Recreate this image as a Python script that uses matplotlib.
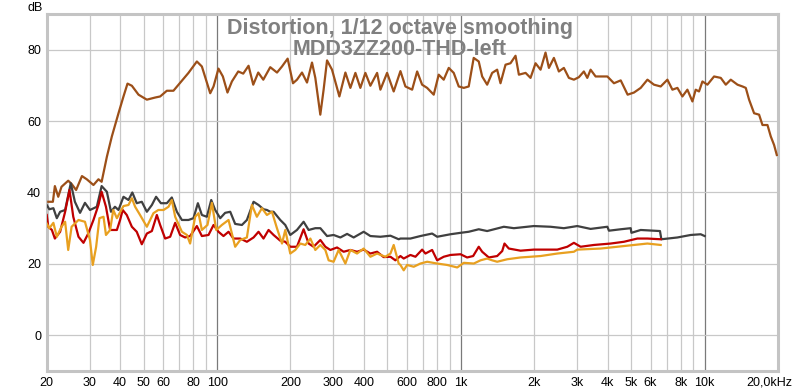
import numpy as np
import matplotlib
matplotlib.use("Agg")
import matplotlib.pyplot as plt
import matplotlib.transforms as mtransforms
from matplotlib.ticker import FixedLocator, NullFormatter

# level curve (brown)
lvl_f = [20.3, 21.2, 21.6, 22.3, 23.0, 24.5, 25.3, 26.4, 27.9, 29.2, 31.1, 32.6, 33.6,
         35.3, 37.0, 39.4, 41.3, 42.9, 44.7, 47.6, 51.5, 55.7, 58.4, 62.2, 66.2, 70.5,
         76.3, 82.6, 86.6, 93.7, 96.7, 101.3, 105.6, 110.3, 115.0, 122.1, 128.0, 134.6,
         140.7, 147.5, 154.7, 165.2, 176.1, 184.6, 194.7, 204.8, 212.7, 223.0, 233.8,
         245.1, 252.9, 265.1, 273.5, 282.5, 296.1, 317.4, 336.0, 352.2, 369.3, 387.0,
         405.8, 425.4, 453.3, 467.7, 498.1, 530.2, 565.1, 592.3, 631.2, 661.7, 693.4,
         727.1, 773.9, 811.3, 850.5, 891.9, 934.9, 980.1, 1028, 1077, 1129, 1184, 1223,
         1282, 1344, 1409, 1454, 1525, 1598, 1676, 1730, 1843, 1931, 2025, 2123, 2225,
         2297, 2408, 2524, 2646, 2774, 2909, 3049, 3196, 3301, 3406, 3571, 3743, 3990,
         4247, 4527, 4832, 5132, 5467, 5827, 6198, 6604, 7036, 7376, 7734, 8107, 8498,
         8911, 9192, 9484, 9795, 10267, 10933, 11648, 12213, 12801, 13641, 14300, 14753,
         15220, 15958, 16728, 17273, 18108, 18681, 19276, 19775]
lvl_db = [37.4, 37.4, 41.8, 38.8, 41.6, 43.3, 42.4, 40.7, 44.6, 43.7, 42.1, 43.7, 43.0,
          50.0, 55.7, 62.2, 66.9, 70.5, 69.9, 67.4, 66.0, 66.6, 66.9, 68.5, 68.5, 70.7,
          73.5, 76.7, 75.3, 67.8, 69.7, 74.7, 72.5, 68.0, 71.1, 73.9, 73.3, 75.5,
          70.2, 73.6, 71.6, 75.1, 73.6, 75.3, 77.5, 70.6, 71.6, 73.6, 70.8,
          76.4, 72.1, 61.8, 68.8, 77.0, 74.4, 66.9, 73.6, 69.3, 73.5, 69.3,
          73.5, 69.9, 73.5, 68.8, 73.5, 68.3, 74.0, 69.7, 68.8, 73.9, 70.2,
          69.3, 67.4, 73.0, 71.6, 74.9, 73.5, 69.7, 69.3, 69.7, 77.7, 76.7, 72.5,
          70.2, 73.5, 74.4, 70.6, 75.8, 76.2, 78.3, 73.0, 73.5, 72.1, 76.2, 74.4, 79.2,
          74.9, 77.7, 73.9, 74.9, 72.1, 71.6, 72.3, 73.9, 72.1, 74.4, 72.5, 72.5, 72.5,
          70.6, 71.4, 67.4, 68.0, 69.3, 71.6, 70.2, 69.7, 71.6, 68.8, 69.3, 66.9, 68.8,
          65.5, 68.8, 68.3, 71.1, 70.2, 72.5, 72.1, 70.2, 71.6, 70.2, 69.7, 69.3,
          66.0, 62.2, 61.8, 58.9, 58.9, 55.7, 53.3, 50.5]

# THD (dark gray)
thd_f = [20.0, 20.5, 21.3, 22.0, 22.7, 23.8, 25.1, 26.1, 27.4, 28.7, 30.1, 32.1, 33.6,
         35.3, 36.7, 38.1, 39.4, 41.3, 43.3, 44.9, 46.8, 49.1, 51.5, 54.0, 56.2, 58.8,
         62.2, 65.2, 68.4, 71.7, 76.3, 80.0, 83.4, 86.6, 90.8, 94.6, 98.2, 103.0, 107.9,
         113.2, 118.6, 126.4, 132.5, 141.1, 147.9, 155.0, 160.1, 165.2, 170.5, 181.6,
         190.4, 199.6, 212.6, 226.4, 237.4, 252.9, 265.2, 282.5, 300.6, 320.4, 341.4,
         363.3, 399.3, 425.4, 467.7, 514.2, 555.9, 565.1, 621.0, 682.5, 762.3, 799.3,
         906.4, 996.9, 1077, 1184, 1282, 1501, 1650, 1992, 2334, 2646, 3003, 3406, 3990,
         4051, 4528, 4975, 5008, 5467, 6559, 6646, 7734, 8769, 9637, 10004]
thd_db = [36.5, 35.3, 35.6, 32.8, 34.6, 35.1, 42.6, 37.4, 34.3, 37.1, 35.1, 36.0, 41.8,
          40.2, 34.6, 36.0, 35.1, 38.8, 37.9, 40.0, 37.0, 37.4, 34.6, 36.5, 38.8, 37.0,
          37.0, 38.6, 34.6, 32.3, 32.3, 32.8, 37.0, 33.7, 33.2, 37.9, 35.1, 32.8, 34.3,
          34.6, 31.2, 30.9, 32.3, 37.4, 36.5, 35.3, 35.1, 34.6, 34.6, 32.3,
          30.9, 28.1, 29.5, 31.8, 29.5, 30.0, 30.0, 27.8, 28.1, 27.4, 28.4,
          27.4, 29.0, 27.8, 27.6, 27.9, 26.9, 27.1, 27.1, 27.8, 28.5, 27.6,
          28.3, 28.7, 29.0, 29.7, 29.2, 30.4, 30.0, 30.6, 30.4, 30.0, 30.6, 29.8, 30.4,
          29.3, 29.7, 30.0, 28.7, 29.5, 29.2, 26.9, 27.4, 28.1, 28.3, 27.8]

# H2 (red)
h2_f = [20.0, 20.3, 21.0, 21.6, 22.7, 23.8, 24.8, 25.7, 27.0, 28.3, 29.6, 31.1, 32.6,
        33.6, 35.0, 36.4, 38.8, 40.0, 41.0, 42.6, 44.7, 46.8, 49.1, 51.5, 54.0, 56.6,
        58.4, 61.2, 64.2, 67.3, 70.5, 73.9, 77.5, 82.6, 86.6, 92.2, 96.7, 101.3, 106.2,
        111.4, 116.7, 124.4, 132.5, 141.1, 147.9, 155.0, 162.6, 170.5, 181.6, 190.4,
        199.6, 212.6, 226.4, 237.4, 248.8, 265.2, 278.0, 291.5, 310.5, 330.4, 352.1,
        375.1, 399.3, 425.4, 453.3, 482.2, 514.2, 538.7, 565.1, 582.8, 621.0, 651.1,
        693.6, 715.6, 762.3, 799.3, 850.5, 906.4, 996.9, 1061, 1123, 1184, 1223, 1302,
        1409, 1478, 1510, 1573, 1757, 1992, 2190, 2486, 2733, 2909, 3100, 3514, 4116,
        4669, 5297, 5823, 6604]
h2_db = [33.7, 30.4, 29.5, 27.1, 29.0, 34.6, 40.7, 33.2, 27.6, 25.9, 28.5, 32.3, 36.5,
         40.2, 36.0, 29.5, 29.5, 32.3, 35.1, 33.7, 30.4, 29.0, 25.5, 28.5, 29.2, 33.7,
         30.9, 27.1, 27.6, 31.5, 28.1, 27.4, 27.8, 30.6, 27.8, 28.1, 30.9, 29.0, 27.8,
         29.0, 27.1, 27.1, 26.2, 27.4, 29.0, 27.1, 29.5, 28.1, 26.5, 26.2,
         24.8, 24.8, 29.7, 25.7, 24.8, 26.7, 24.8, 23.9, 24.6, 23.4, 23.9,
         23.4, 24.0, 22.9, 23.4, 21.9, 22.0, 21.0, 22.2, 21.5, 22.5, 22.0,
         24.0, 22.9, 23.9, 21.0, 22.0, 22.5, 22.7, 21.8, 22.2, 24.8, 23.4, 21.8,
         22.2, 23.6, 25.7, 24.3, 23.7, 24.0, 24.0, 24.0, 24.8, 25.9, 24.8, 25.3, 25.7,
         26.2, 27.1, 27.1, 26.9]

# H3 (orange)
h3_f = [20.0, 20.5, 21.3, 22.0, 23.0, 23.8, 24.5, 25.3, 27.0, 28.7, 30.1, 30.9, 31.9,
        32.9, 34.2, 35.0, 36.4, 37.5, 38.8, 41.3, 43.3, 44.7, 46.1, 48.3, 51.5, 54.8,
        57.4, 60.3, 63.2, 65.2, 67.3, 71.7, 75.2, 77.5, 81.3, 83.9, 86.6, 91.3, 95.2,
        99.2, 104.6, 111.4, 118.6, 124.4, 132.5, 138.9, 145.6, 152.7, 160.1, 167.9,
        176.0, 184.6, 190.4, 199.6, 209.3, 219.5, 230.1, 241.3, 252.9, 265.2, 278.0,
        286.8, 300.6, 315.2, 335.9, 352.1, 375.1, 399.3, 425.4, 453.3, 490.0, 514.2,
        530.2, 555.9, 565.1, 582.8, 601.8, 640.7, 682.5, 727.3, 799.3, 878.6, 966.4,
        1028, 1130, 1204, 1282, 1344, 1409, 1550, 1757, 2123, 2486, 2909, 3003, 3743,
        4383, 5132, 5823, 6604]
h3_db = [31.3, 30.0, 31.5, 27.6, 30.4, 31.8, 23.9, 30.4, 32.3, 31.8, 26.7, 19.7, 24.8,
         32.8, 33.2, 28.1, 29.5, 35.1, 32.8, 36.2, 36.5, 38.4, 36.0, 33.7, 30.4, 34.2,
         35.1, 35.1, 36.0, 37.9, 33.2, 29.0, 28.1, 25.7, 33.2, 34.2, 29.5, 30.9, 37.1,
         29.5, 30.9, 32.3, 24.8, 26.7, 27.4, 36.5, 33.2, 35.6, 33.7, 34.6,
         30.0, 25.7, 29.5, 22.9, 23.9, 25.7, 25.3, 27.1, 23.9, 25.3, 23.9,
         21.0, 20.6, 23.9, 20.1, 23.9, 22.9, 24.3, 22.0, 22.9, 22.0, 22.9,
         25.3, 20.1, 19.7, 18.2, 19.7, 19.2, 20.1, 20.6, 20.1, 19.7, 19.0,
         20.3, 20.1, 21.0, 21.5, 21.0, 20.6, 21.3, 21.8, 22.2, 22.9, 23.4, 24.0, 24.3,
         24.8, 25.3, 25.7, 25.3]

x_ticks = [20, 30, 40, 50, 60, 80, 100, 200, 300, 400, 600, 800, 1000, 2000, 3000,
           4000, 5000, 6000, 8000, 10000, 20000]
x_labels = ["20", "30", "40", "50", "60", "80", "100", "200", "300", "400", "600", "800",
            "1k", "2k", "3k", "4k", "5k", "6k", "8k", "10k", "20,0kHz"]
y_ticks = [0, 20, 40, 60, 80]

plt.rcParams['font.family'] = ['Liberation Sans', 'DejaVu Sans']

fig = plt.figure(figsize=(8, 3.92), dpi=100)
ax = fig.add_axes([0.0584, 0.0536, 0.9141, 0.9107])
ax.set_xscale('log')
ax.set_xlim(20, 20000)
ax.set_ylim(-10, 90)

# grid: every integer multiple, decades darker
minor = [m * 10 ** e for e in range(1, 5) for m in range(1, 10) if 20 <= m * 10 ** e <= 20000]
for f in minor:
    if f in (100, 1000, 10000):
        ax.axvline(f, color='#7a7a7a', lw=0.9, zorder=1)
    else:
        ax.axvline(f, color='#c8c8c8', lw=0.9, zorder=1)
for y in y_ticks:
    ax.axhline(y, color='#c8c8c8', lw=0.9, zorder=1)

ax.plot(lvl_f, lvl_db, color='#9c4f18', lw=1.6, zorder=3)
ax.plot(thd_f, thd_db, color='#404040', lw=1.6, zorder=3)
ax.plot(h2_f, h2_db, color='#c00000', lw=1.6, zorder=3)
ax.plot(h3_f, h3_db, color='#e8a020', lw=1.6, zorder=3)

ax.xaxis.set_major_locator(FixedLocator(x_ticks))
ax.xaxis.set_minor_locator(FixedLocator([]))
ax.xaxis.set_minor_formatter(NullFormatter())
ax.set_xticklabels(x_labels)
ax.set_yticks(y_ticks)
ax.tick_params(length=0, labelsize=9, colors='#000000', pad=4)

# nudge the last label left so it stays inside the figure
last = ax.get_xticklabels()[-1]
last.set_transform(last.get_transform() + mtransforms.ScaledTranslation(-6 / 72, 0, fig.dpi_scale_trans))

for s in ax.spines.values():
    s.set_color('#c4c4c4')
    s.set_linewidth(2.2)

fig.text(0.034, 0.995, "dB", ha='left', va='top', fontsize=9)

fig.text(0.5, 0.928, "Distortion, 1/12 octave smoothing", ha='center', va='center',
         fontsize=15.5, fontweight='bold', color='#808080')
fig.text(0.5, 0.874, "MDD3ZZ200-THD-left", ha='center', va='center',
         fontsize=15.5, fontweight='bold', color='#808080')

fig.savefig('out.png', dpi=100, facecolor='white')
